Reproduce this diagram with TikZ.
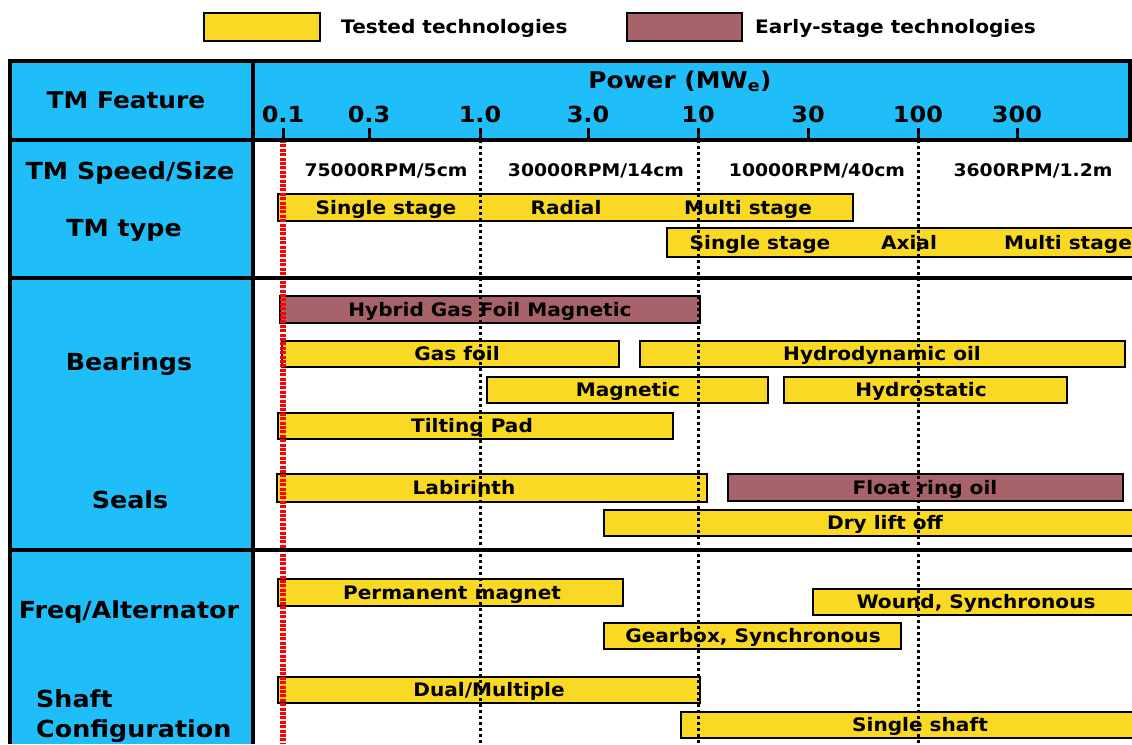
\documentclass[tikz,border=0pt]{standalone}
\usepackage{fontspec}
\setmainfont{DejaVu Sans}[FakeStretch=1.08]
\definecolor{hdrblue}{RGB}{32,190,248}
\definecolor{testy}{RGB}{249,217,35}
\definecolor{earlyb}{RGB}{168,98,106}
\definecolor{vred}{RGB}{255,0,0}
\newcommand\tmbar[8]{%
  \node[bar, fill=#6, minimum width={#4-#2}, minimum height={#5-#3}, anchor=north west] (#1) at (#2,#3) {};
  \node[bartxt] (#1t) at (#7,{(#3+#5)/2}) {#8};}
\begin{document}
\begin{tikzpicture}[x=1pt,y=-1pt,
  bar/.style={draw=black, line width=1.6pt, inner sep=0pt, outer sep=0pt},
  bartxt/.style={font=\fontsize{18.6}{22}\selectfont\bfseries, inner sep=0pt, anchor=base, yshift=-6.7pt},
  rpmtxt/.style={font=\fontsize{17.4}{20}\selectfont\bfseries, inner sep=0pt, anchor=base, yshift=-6.6pt},
  feat/.style={font=\fontsize{23.5}{26}\selectfont\bfseries, inner sep=0pt, anchor=base, yshift=-8.5pt},
  ticktxt/.style={font=\fontsize{22.2}{26}\selectfont\bfseries, inner sep=0pt, anchor=base},
  legtxt/.style={font=\fontsize{18.6}{22}\selectfont\bfseries, inner sep=0pt, anchor=base west, yshift=-7pt},
  tabline/.style={line width=3.5pt, black},
  tickmark/.style={line width=3pt, black},
  dotline/.style={line width=3pt, black, dash pattern=on 3pt off 3pt},
  redline/.style={line width=5.5pt, vred, dash pattern=on 3pt off 1.4pt}]
\useasboundingbox (0,0) rectangle (1132,744);
\clip (0,0) rectangle (1132,744);
% legend
\node[bar, fill=testy, minimum width=116, minimum height=28, anchor=north west] (legA) at (204,13) {};
\node[legtxt] (legAt) at (341,26) {Tested technologies};
\node[bar, fill=earlyb, minimum width=115, minimum height=28, anchor=north west] (legB) at (627,13) {};
\node[legtxt] (legBt) at (755,26) {Early-stage technologies};
% table background
\fill[hdrblue] (10,61) rectangle (1132,140);
\fill[hdrblue] (10,140) rectangle (253,744);
% header texts
\node[font=\fontsize{23}{26}\selectfont\bfseries, inner sep=0pt, anchor=base] (hfeat) at (126,108.3) {TM Feature};
\node[font=\fontsize{23}{26}\selectfont\bfseries, inner sep=0pt, anchor=base] (hpow) at (680,88) {Power (MW\textsubscript{e})};
% ticks
\foreach \nm/\xx/\lab in {t01/283/0.1, t03/369/0.3, t1/480/1.0, t3/588/3.0, t10/698/10, t30/808/30, t100/918/100, t300/1017/300}{
  \coordinate (\nm) at (\xx,140);
  \node[ticktxt] (\nm l) at (\xx,122.7) {\lab};
  \draw[tickmark] (\nm) -- ++(0,-12);
}
\coordinate (bot) at (0,744);
% row labels
\node[feat] (fspeed) at (130,171) {TM Speed/Size};
\node[feat] (ftype) at (124,228) {TM type};
\node[feat] (fbear) at (129,362) {Bearings};
\node[feat] (fseal) at (130,500) {Seals};
\node[feat] (ffreq) at (129,610) {Freq/Alternator};
\node[feat, anchor=base west] (fshaft1) at (36,699) {Shaft};
\node[feat, anchor=base west] (fshaft2) at (36,729) {Configuration};
% speed texts
\node[rpmtxt] (s1) at (386,170) {75000RPM/5cm};
\node[rpmtxt] (s2) at (596,170) {30000RPM/14cm};
\node[rpmtxt] (s3) at (817,170) {10000RPM/40cm};
\node[rpmtxt] (s4) at (1033,170) {3600RPM/1.2m};
% TM type bars
\tmbar{radial}{278}{194}{853}{221}{testy}{386}{Single stage}
\node[bartxt] (radialb) at (566,207.5) {Radial};
\node[bartxt] (radialc) at (748,207.5) {Multi stage};
\tmbar{axial}{667}{228}{1160}{257}{testy}{760}{Single stage}
\node[bartxt] (axialb) at (909,242.5) {Axial};
\node[bartxt] (axialc) at (1068,242.5) {Multi stage};
% bearings
\tmbar{hgfm}{280}{296}{700}{323}{earlyb}{490}{Hybrid Gas Foil Magnetic}
\tmbar{gasfoil}{282}{341}{619}{367}{testy}{457}{Gas foil}
\tmbar{hydro}{640}{341}{1125}{367}{testy}{882}{Hydrodynamic oil}
\tmbar{magn}{487}{377}{768}{403}{testy}{628}{Magnetic}
\tmbar{hstat}{784}{377}{1067}{403}{testy}{921}{Hydrostatic}
\tmbar{tilt}{278}{413}{673}{439}{testy}{472}{Tilting Pad}
% seals
\tmbar{labi}{277}{474}{707}{502}{testy}{464}{Labirinth}
\tmbar{float}{728}{474}{1123}{501}{earlyb}{925}{Float ring oil}
\tmbar{dry}{604}{510}{1160}{536}{testy}{885}{Dry lift off}
% freq / alternator
\tmbar{perm}{278}{579}{623}{606}{testy}{452}{Permanent magnet}
\tmbar{wound}{813}{589}{1160}{615}{testy}{976}{Wound, Synchronous}
\tmbar{gearb}{604}{623}{901}{649}{testy}{753}{Gearbox, Synchronous}
% shaft
\tmbar{dual}{278}{677}{700}{703}{testy}{489}{Dual/Multiple}
\tmbar{single}{681}{712}{1160}{738}{testy}{920}{Single shaft}
% grid lines
\draw[redline] (t01) -- (t01 |- bot);
\foreach \nm in {t1,t10,t100}{\draw[dotline] (\nm) -- (\nm |- bot);}
% table lines
\draw[tabline] (10,61) -- (1132,61);
\draw[tabline] (10,59.25) -- (10,744);
\draw[tabline] (253,61) -- (253,744);
\draw[tabline] (1130,61) -- (1130,140);
\draw[tabline] (10,140) -- (1132,140);
\draw[tabline] (10,278) -- (1132,278);
\draw[tabline] (10,550) -- (1132,550);
\end{tikzpicture}
\end{document}
